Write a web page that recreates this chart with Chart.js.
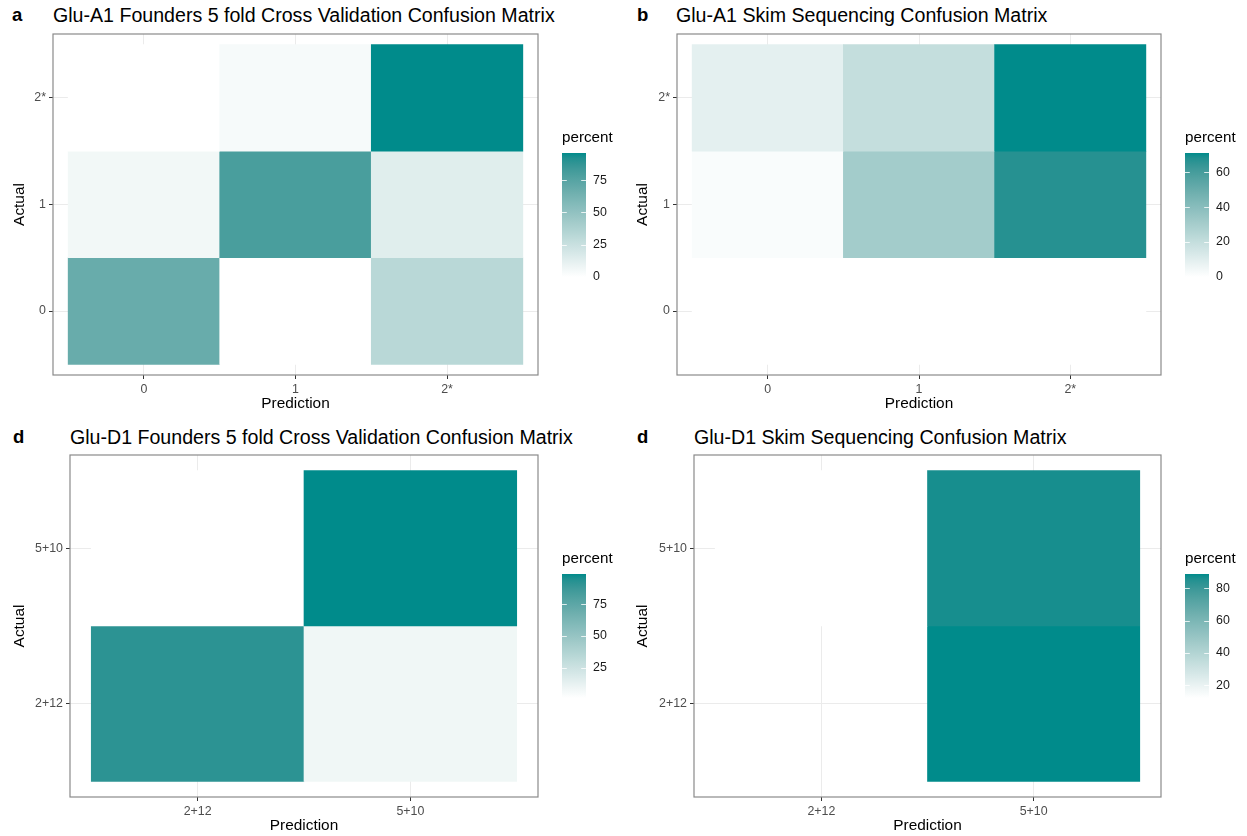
<!DOCTYPE html>
<html>
<head>
<meta charset="utf-8">
<title>Glu-A1 / Glu-D1 confusion matrices</title>
<script src="https://cdn.jsdelivr.net/npm/chart.js@4/dist/chart.umd.min.js"></script>
<style>
  html, body { margin: 0; padding: 0; background: #ffffff; }
  body { position: relative; width: 1247px; height: 836px; overflow: hidden;
         font-family: "Liberation Sans", Arial, sans-serif; color: #000; }
  .letter { position: absolute; font-weight: bold; font-size: 18.5px; line-height: 22px; }
  .title  { position: absolute; font-size: 19.6px; line-height: 22px; white-space: nowrap; }
  canvas  { position: absolute; }
</style>
</head>
<body>

<div class="letter" style="left:12px;top:4px;">a</div>
<div class="title"  style="left:53px;top:4px;">Glu-A1 Founders 5 fold Cross Validation Confusion Matrix</div>
<div class="letter" style="left:637px;top:4px;">b</div>
<div class="title"  style="left:676px;top:4px;">Glu-A1 Skim Sequencing Confusion Matrix</div>
<div class="letter" style="left:13px;top:426px;">d</div>
<div class="title"  style="left:70px;top:426px;">Glu-D1 Founders 5 fold Cross Validation Confusion Matrix</div>
<div class="letter" style="left:637px;top:426px;">d</div>
<div class="title"  style="left:694px;top:426px;">Glu-D1 Skim Sequencing Confusion Matrix</div>

<canvas id="pa" width="623" height="418" style="left:0;top:0;"></canvas>
<canvas id="pb" width="624" height="418" style="left:623px;top:0;"></canvas>
<canvas id="pc" width="623" height="418" style="left:0;top:418px;"></canvas>
<canvas id="pd" width="624" height="418" style="left:623px;top:418px;"></canvas>

<script>
// ---- Allele classes (tick labels on both axes) ----
const gluA1Classes = ['0', '1', '2*'];
const gluD1Classes = ['2+12', '5+10'];

// ---- Percent of each actual class (rows) called as each predicted class (columns) ----
// null = no tile drawn for that combination
const a1FoundersPercent = [
  [68, 0, 32],   // actual 0
  [6, 80, 14],   // actual 1
  [0, 4, 96]     // actual 2*
];
const a1SkimPercent = [
  [0, 0, 0],     // actual 0
  [2, 31, 67],   // actual 1
  [9, 20, 71]    // actual 2*
];
const d1FoundersPercent = [
  [92, 8],       // actual 2+12
  [1, 99]        // actual 5+10
];
const d1SkimPercent = [
  [null, 89],    // actual 2+12
  [12, 87]       // actual 5+10
];

// ---- Colour-bar breaks for each panel ----
const a1FoundersBreaks = [0, 25, 50, 75];
const a1SkimBreaks     = [0, 20, 40, 60];
const d1FoundersBreaks = [25, 50, 75];
const d1SkimBreaks     = [20, 40, 60, 80];

// ---- white -> darkcyan gradient, interpolated in CIELAB ----
const LOW_RGB = [255, 255, 255];
const HIGH_RGB = [0, 139, 139];

function toLinear(c) { c /= 255; return c <= 0.04045 ? c / 12.92 : Math.pow((c + 0.055) / 1.055, 2.4); }
function fromLinear(c) {
  const v = c <= 0.0031308 ? 12.92 * c : 1.055 * Math.pow(c, 1 / 2.4) - 0.055;
  return Math.round(Math.max(0, Math.min(1, v)) * 255);
}
const WN = [0.95047, 1.0, 1.08883];
function labF(t) { return t > 216 / 24389 ? Math.cbrt(t) : (24389 / 27 * t + 16) / 116; }
function labFinv(t) { return t * t * t > 216 / 24389 ? t * t * t : (116 * t - 16) / (24389 / 27); }
function rgbToLab(rgb) {
  const [r, g, b] = rgb.map(toLinear);
  const x = (0.4124564 * r + 0.3575761 * g + 0.1804375 * b) / WN[0];
  const y = (0.2126729 * r + 0.7151522 * g + 0.0721750 * b) / WN[1];
  const z = (0.0193339 * r + 0.1191920 * g + 0.9503041 * b) / WN[2];
  const fx = labF(x), fy = labF(y), fz = labF(z);
  return [116 * fy - 16, 500 * (fx - fy), 200 * (fy - fz)];
}
function labToRgb([L, A, B]) {
  const fy = (L + 16) / 116, fx = fy + A / 500, fz = fy - B / 200;
  const x = labFinv(fx) * WN[0], y = labFinv(fy) * WN[1], z = labFinv(fz) * WN[2];
  const r = 3.2404542 * x - 1.5371385 * y - 0.4985314 * z;
  const g = -0.9692660 * x + 1.8760108 * y + 0.0415560 * z;
  const b = 0.0556434 * x - 0.2040259 * y + 1.0572252 * z;
  return [fromLinear(r), fromLinear(g), fromLinear(b)];
}
const LOW_LAB = rgbToLab(LOW_RGB), HIGH_LAB = rgbToLab(HIGH_RGB);
function rampColour(t) {
  t = Math.max(0, Math.min(1, t));
  const lab = LOW_LAB.map((l, i) => l + (HIGH_LAB[i] - l) * t);
  const [r, g, b] = labToRgb(lab);
  return `rgb(${r},${g},${b})`;
}

// ---- Shared styling ----
Chart.defaults.font.family = '"Liberation Sans", Arial, sans-serif';
Chart.defaults.animation = false;

const TICK_FONT = { size: 12.4 };
const TICK_COLOUR = '#4d4d4d';
const AXIS_TITLE_FONT = { size: 15.4 };

// Panel border drawn over the tiles, like a bordered plotting panel
const panelBorder = {
  id: 'panelBorder',
  afterDraw(chart) {
    const { ctx, chartArea: a } = chart;
    ctx.save();
    ctx.strokeStyle = '#8a8a8a';
    ctx.lineWidth = 1.2;
    ctx.strokeRect(a.left, a.top, a.right - a.left, a.bottom - a.top);
    ctx.restore();
  }
};

// Continuous colour bar legend ("percent") to the right of the panel
const colourBar = {
  id: 'colourBar',
  afterDraw(chart, args, opts) {
    const { ctx, chartArea: a } = chart;
    const { min, max, breaks } = opts;
    const x = a.right + 24, w = 24;
    const top = a.top + 119, h = 124, bottom = top + h;
    const yOf = v => bottom - (v - min) / (max - min) * h;

    ctx.save();
    const grad = ctx.createLinearGradient(0, bottom, 0, top);
    const n = 24;
    for (let i = 0; i <= n; i++) grad.addColorStop(i / n, rampColour(i / n));
    ctx.fillStyle = grad;
    ctx.fillRect(x, top, w, h);

    ctx.strokeStyle = 'rgba(255,255,255,0.8)';
    ctx.lineWidth = 1;
    ctx.fillStyle = '#1a1a1a';
    ctx.font = '12.4px "Liberation Sans", Arial, sans-serif';
    ctx.textAlign = 'left';
    ctx.textBaseline = 'middle';
    breaks.forEach(b => {
      const y = Math.round(yOf(b)) + 0.5;
      ctx.beginPath();
      ctx.moveTo(x, y); ctx.lineTo(x + w / 5, y);
      ctx.moveTo(x + w - w / 5, y); ctx.lineTo(x + w, y);
      ctx.stroke();
      ctx.fillText(String(b), x + w + 7, yOf(b));
    });

    ctx.fillStyle = '#000000';
    ctx.font = '15.2px "Liberation Sans", Arial, sans-serif';
    ctx.fillText('percent', x, top - 15);
    ctx.restore();
  }
};

function tilesFrom(matrix) {
  const out = [];
  matrix.forEach((row, r) => row.forEach((v, c) => {
    if (v !== null) out.push({ x: c, y: [r - 0.5, r + 0.5], v });
  }));
  return out;
}

function flatValues(matrix) {
  return matrix.flat().filter(v => v !== null);
}

function makeMatrixChart(canvasId, classes, matrix, breaks, area) {
  const canvas = document.getElementById(canvasId);
  const W = canvas.width, H = canvas.height;
  const vals = flatValues(matrix);
  const vmin = Math.min(...vals), vmax = Math.max(...vals);
  const n = classes.length;
  const xAxisH = H - area.bottom;
  const titleHalf = AXIS_TITLE_FONT.size * 1.2 / 2;

  const discreteScale = (axisTitle, fit, titlePadding) => ({
    type: 'linear',
    min: -0.6,
    max: n - 0.4,
    offset: false,
    afterBuildTicks(scale) { scale.ticks = classes.map((_, i) => ({ value: i })); },
    afterFit: fit,
    ticks: {
      callback: v => classes[v],
      font: TICK_FONT,
      color: TICK_COLOUR,
      padding: 3,
      autoSkip: false,
      maxRotation: 0
    },
    grid: {
      offset: false,
      color: '#ebebeb',
      lineWidth: 1,
      drawTicks: true,
      tickLength: 4,
      tickColor: '#333333',
      tickWidth: 1
    },
    border: { display: false },
    title: {
      display: true,
      text: axisTitle,
      font: AXIS_TITLE_FONT,
      color: '#000000',
      padding: titlePadding
    }
  });

  return new Chart(canvas, {
    type: 'bar',
    data: {
      datasets: [{
        data: tilesFrom(matrix),
        backgroundColor: ctx => rampColour((ctx.raw.v - vmin) / (vmax - vmin)),
        borderWidth: 0,
        barPercentage: 1,
        categoryPercentage: 1
      }]
    },
    options: {
      responsive: false,
      devicePixelRatio: 1,
      layout: { padding: { left: 0, top: area.top, right: W - area.right, bottom: 0 } },
      scales: {
        x: discreteScale('Prediction', s => { s.height = xAxisH; },
                         { top: 0, bottom: Math.max(0, xAxisH - titleHalf - 29) }),
        y: discreteScale('Actual', s => { s.width = area.left; },
                         { top: 20 - titleHalf, bottom: 0 })
      },
      plugins: {
        legend: { display: false },
        tooltip: { enabled: false },
        colourBar: { min: vmin, max: vmax, breaks }
      }
    },
    plugins: [panelBorder, colourBar]
  });
}

makeMatrixChart('pa', gluA1Classes, a1FoundersPercent, a1FoundersBreaks,
                { left: 53, top: 34, right: 538, bottom: 375 });
makeMatrixChart('pb', gluA1Classes, a1SkimPercent, a1SkimBreaks,
                { left: 54, top: 34, right: 538, bottom: 375 });
makeMatrixChart('pc', gluD1Classes, d1FoundersPercent, d1FoundersBreaks,
                { left: 70, top: 37, right: 538, bottom: 379 });
makeMatrixChart('pd', gluD1Classes, d1SkimPercent, d1SkimBreaks,
                { left: 71, top: 37, right: 538, bottom: 379 });
</script>
</body>
</html>
